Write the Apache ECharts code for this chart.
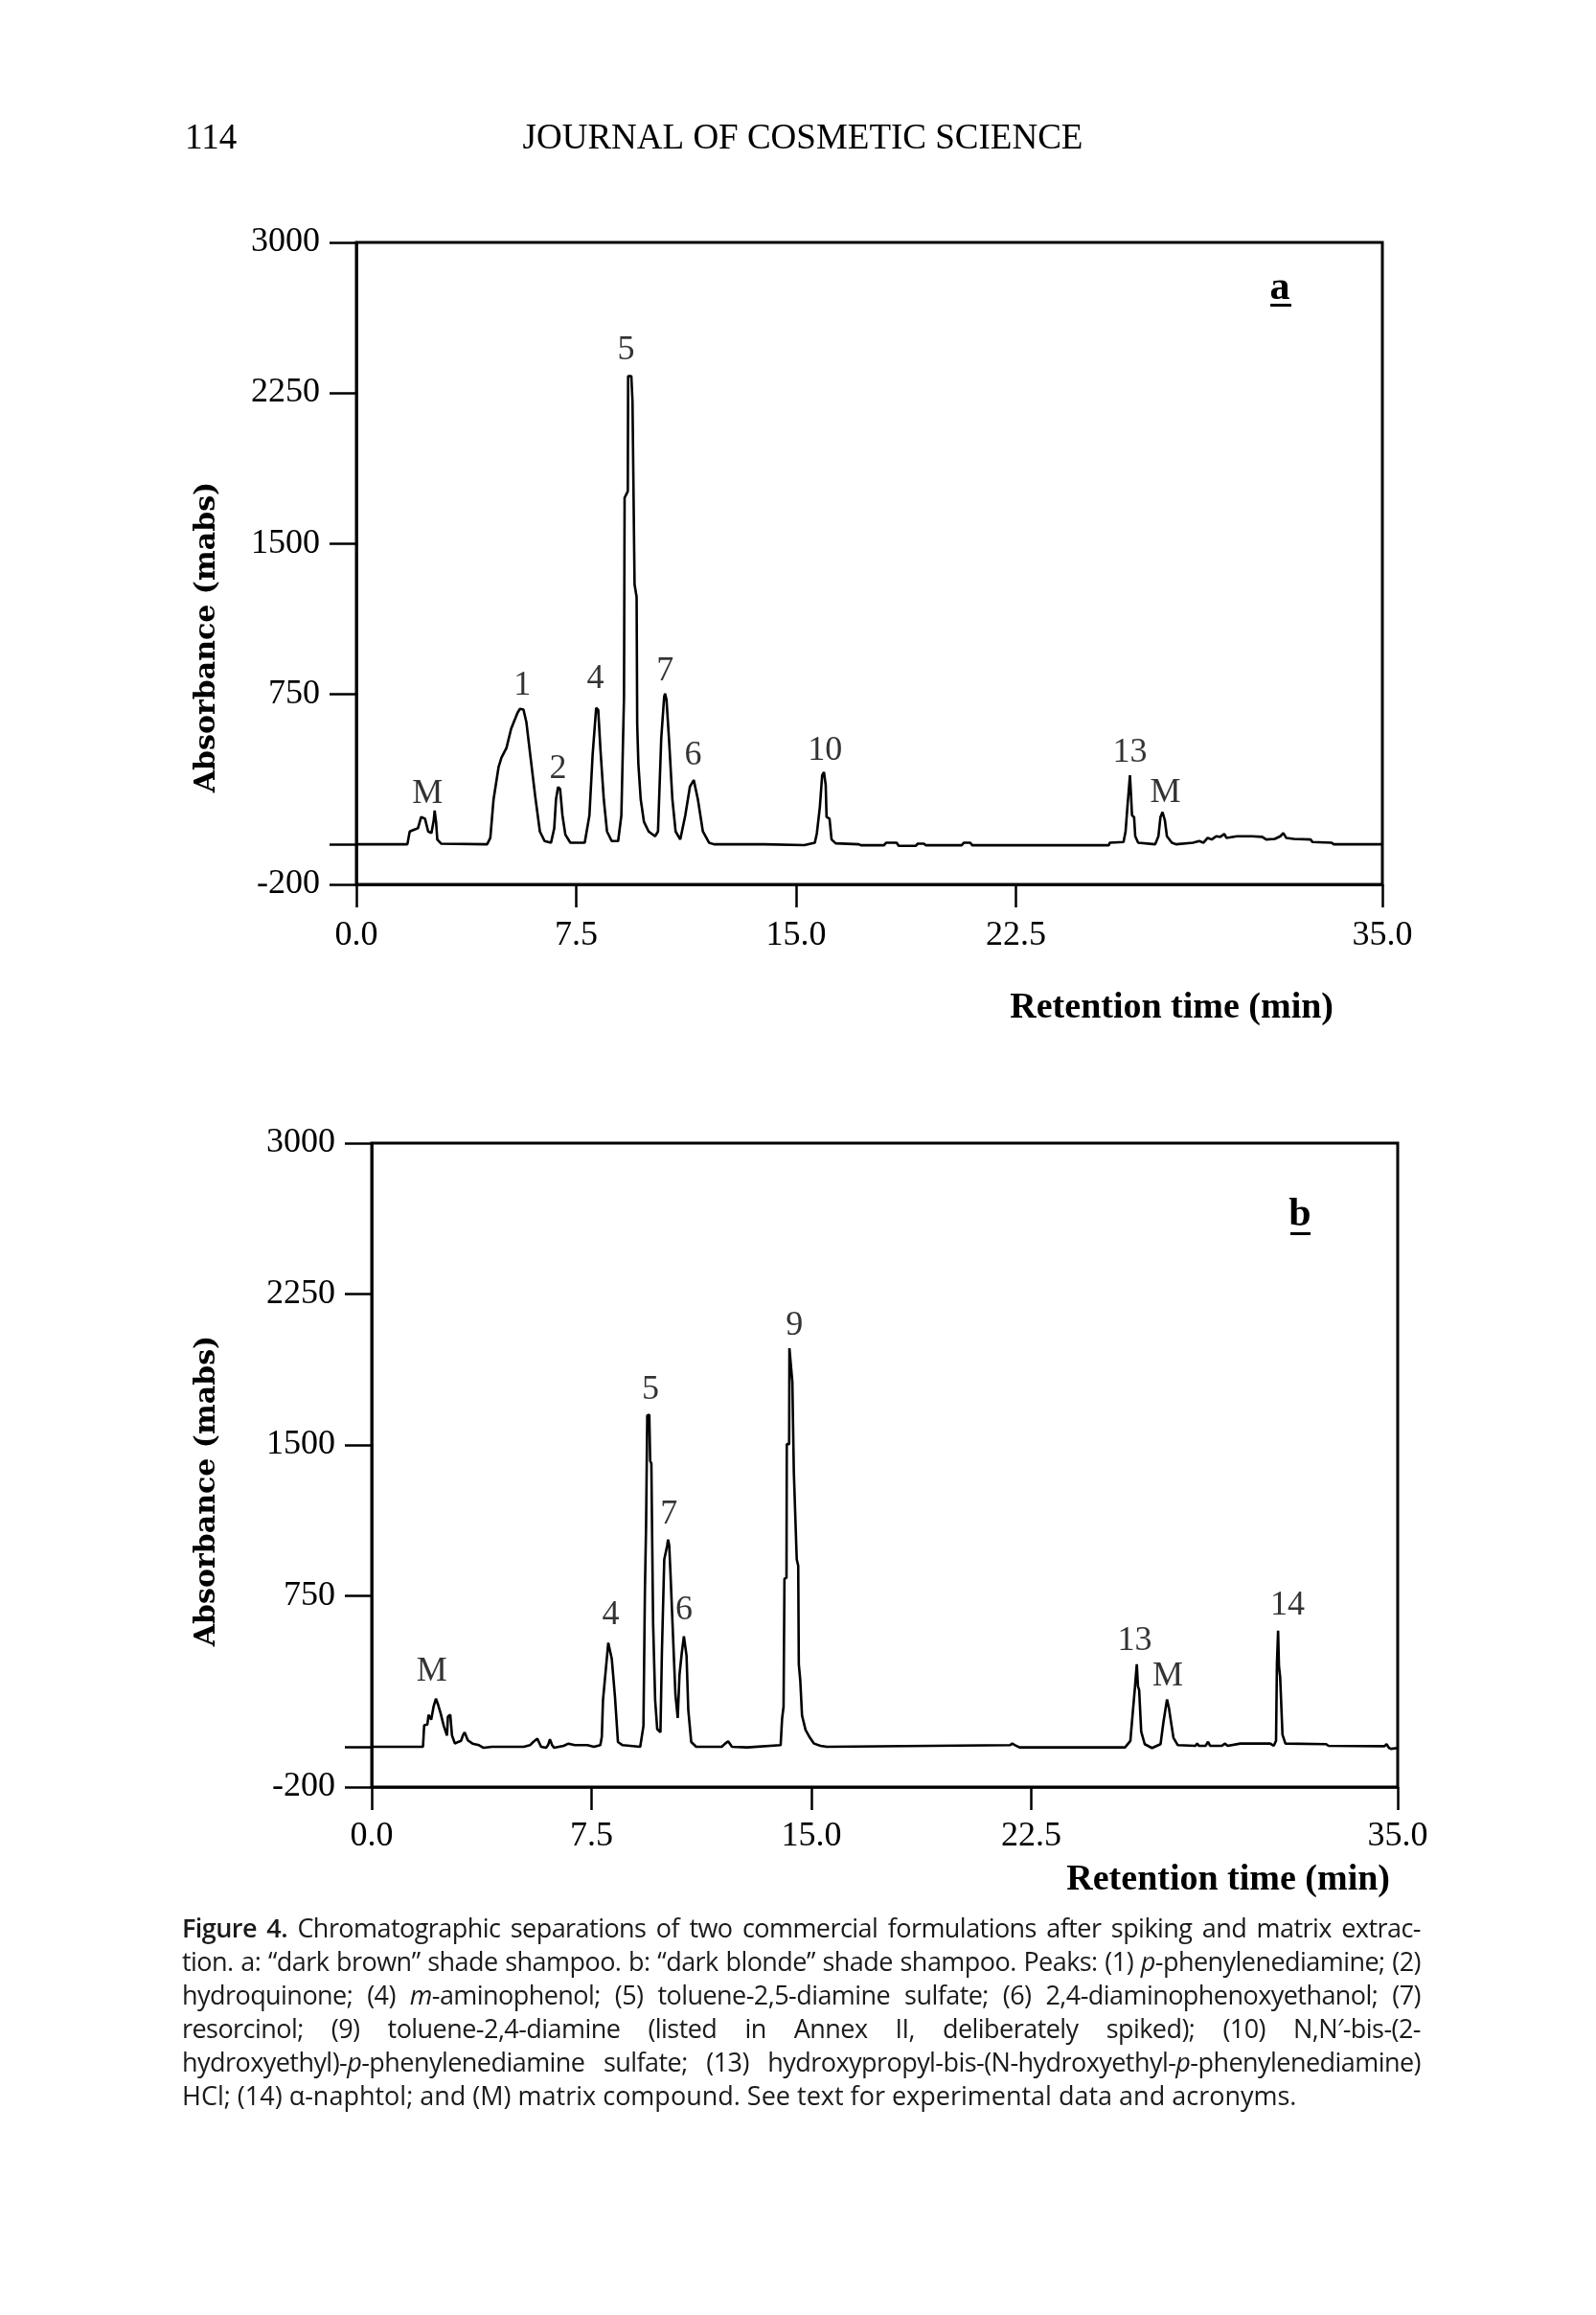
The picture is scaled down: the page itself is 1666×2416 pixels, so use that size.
<!DOCTYPE html>
<html>
<head>
<meta charset="utf-8">
<script src="https://cdn.jsdelivr.net/npm/echarts@6/dist/echarts.min.js"></script>
<style>
html,body{margin:0;padding:0;background:#fff;}
#chart{position:absolute;left:0;top:0;width:1666px;height:2416px;}
#caption{position:absolute;left:190px;top:1994px;width:1293px;font-family:"Open Sans","Noto Sans",sans-serif;font-size:27px;line-height:35px;color:#1a1a1a;}
#caption div{text-align:justify;text-align-last:justify;letter-spacing:-0.55px;}
#caption div.last{text-align:left;text-align-last:left;letter-spacing:0;}
#caption b{font-weight:600;}
</style>
</head>
<body>
<div id="chart"></div>
<div id="caption">
<div><b>Figure 4.</b> Chromatographic separations of two commercial formulations after spiking and matrix extrac-</div>
<div>tion. a: “dark brown” shade shampoo. b: “dark blonde” shade shampoo. Peaks: (1) <i>p</i>-phenylenediamine; (2)</div>
<div>hydroquinone; (4) <i>m</i>-aminophenol; (5) toluene-2,5-diamine sulfate; (6) 2,4-diaminophenoxyethanol; (7)</div>
<div>resorcinol; (9) toluene-2,4-diamine (listed in Annex II, deliberately spiked); (10) N,N′-bis-(2-</div>
<div>hydroxyethyl)-<i>p</i>-phenylenediamine sulfate; (13) hydroxypropyl-bis-(N-hydroxyethyl-<i>p</i>-phenylenediamine)</div>
<div class="last">HCl; (14) α-naphtol; and (M) matrix compound. See text for experimental data and acronyms.</div>
</div>
<script>
// ---------- Data: chromatogram a ("dark brown" shampoo) ----------
const timeA = [0,1.74,1.82,1.96,2.10,2.21,2.34,2.45,2.56,2.64,2.67,2.72,2.76,2.89,4.46,4.57,4.68,4.85,4.95,5.12,5.28,5.50,5.58,5.70,5.80,5.93,6.10,6.26,6.42,6.64,6.75,6.81,6.88,6.95,7.03,7.13,7.30,7.79,7.95,8.06,8.18,8.25,8.33,8.44,8.55,8.71,8.93,9.04,9.13,9.15,9.26,9.27,9.38,9.42,9.48,9.49,9.56,9.58,9.62,9.70,9.81,9.97,10.19,10.29,10.40,10.50,10.53,10.58,10.67,10.78,10.89,11.05,11.22,11.38,11.51,11.65,11.82,12.03,12.20,13.90,13.95,15.28,15.64,15.71,15.81,15.89,15.95,16.01,16.04,16.14,16.21,16.35,17.14,17.21,18.00,18.07,18.43,18.50,19.08,19.15,19.36,19.43,20.65,20.72,20.94,21.01,25.67,25.70,26.17,26.24,26.31,26.39,26.43,26.46,26.53,26.57,26.67,27.25,27.36,27.43,27.50,27.58,27.65,27.82,27.96,28.54,28.75,28.90,29.04,29.18,29.33,29.47,29.61,29.68,30.04,30.54,30.90,31.04,31.33,31.52,31.62,31.72,31.98,32.55,32.62,33.27,33.34,35.00];
const absA  = [0,0,64,72,80,136,128,64,56,120,168,110,24,3,0,32,224,384,432,480,576,656,675,672,608,448,240,64,16,8,80,224,285,275,144,48,8,8,144,448,680,670,464,224,64,16,16,144,736,1727,1760,2334,2334,2206,2206,1295,1233,600,400,224,112,64,40,64,528,736,751,720,512,224,64,24,144,288,320,224,64,8,0,0,-4,-4,8,56,184,344,360,296,136,128,24,5,0,-5,-5,8,8,-8,-8,3,3,-5,-5,8,8,-5,-5,8,11,64,200,344,232,144,136,40,8,0,40,136,160,120,40,8,0,8,16,8,32,24,40,37,51,32,40,40,37,24,27,40,56,32,27,24,11,8,0,0];

// ---------- Data: chromatogram b ("dark blonde" shampoo) ----------
const timeB = [0,1.75,1.79,1.90,1.94,2.03,2.11,2.19,2.27,2.35,2.46,2.57,2.60,2.68,2.74,2.84,2.95,3.05,3.11,3.17,3.28,3.44,3.66,3.82,4.10,5.19,5.40,5.51,5.65,5.78,5.95,6.02,6.08,6.15,6.22,6.55,6.71,6.93,7.36,7.58,7.80,7.85,7.89,8.02,8.07,8.13,8.19,8.30,8.40,8.56,9.16,9.27,9.32,9.36,9.40,9.47,9.50,9.54,9.60,9.67,9.74,9.85,9.90,9.98,10.08,10.11,10.15,10.20,10.28,10.36,10.44,10.50,10.58,10.65,10.70,10.74,10.80,10.90,11.07,11.94,12.05,12.16,12.29,12.81,13.95,14.00,14.05,14.08,14.15,14.16,14.24,14.25,14.31,14.35,14.40,14.44,14.50,14.55,14.57,14.62,14.68,14.80,14.95,15.09,15.31,15.53,21.78,21.85,21.95,22.10,25.70,25.88,25.98,26.03,26.07,26.10,26.14,26.18,26.25,26.37,26.62,26.91,27.01,27.13,27.20,27.25,27.35,27.50,28.10,28.16,28.22,28.45,28.53,28.60,29.00,29.11,29.20,29.63,30.65,30.77,30.85,30.88,30.92,30.95,30.99,31.07,31.17,32.56,32.64,34.55,34.62,34.70,34.77,35.00];
const absB  = [0,0,107,111,159,135,199,239,207,167,103,56,150,159,56,16,24,30,56,72,32,16,8,-5,0,0,8,24,40,0,-5,10,37,10,-5,5,16,8,8,0,8,50,231,437,517,517,437,247,24,8,0,103,772,1100,1647,1650,1420,1408,613,231,88,72,469,931,1000,1030,1000,835,549,263,143,358,469,549,540,453,183,24,0,0,15,27,0,-3,8,140,200,835,840,1504,1504,1981,1990,1814,1368,1368,931,900,410,330,156,84,45,16,5,0,8,16,8,-3,-3,29,200,283,283,410,300,283,76,13,-6,13,124,235,190,140,45,8,5,16,5,5,25,5,5,16,5,16,16,5,30,410,577,400,347,60,16,13,5,3,13,-5,-10,-6];

// ---------- Peak labels ----------
const peakTimeA = [2.43,5.66,6.88,8.15,9.20,10.53,11.49,15.99,26.39,27.60];
const peakPosA  = [249,791,376,825,2463,863,441,464,456,256];
const peakTextA = ['M','1','2','4','5','7','6','10','13','M'];
const peakTimeB = [2.05,8.15,9.51,10.14,10.65,14.42,26.03,27.16,31.24];
const peakPosB  = [374,653,1774,1154,676,2095,525,350,700];
const peakTextB = ['M','4','5','7','6','9','13','M','14'];

// ---------- Axis ticks ----------
const xTicks  = [0, 7.5, 15, 22.5, 35];
const yTicks  = [-200, 0, 750, 1500, 2250, 3000];
const yLabels = [-200, 750, 1500, 2250, 3000];

const pairs = (t, v) => t.map((x, i) => [x, v[i]]);
const peakData = (t, v, s) => t.map((x, i) => ({ value: [x, v[i]], name: s[i] }));

const serif = '"Liberation Serif","Times New Roman",serif';

function xAxisCfg(g, margin) {
  return {
    type: 'value', gridIndex: g, min: 0, max: 35,
    axisLine: { show: true, onZero: false, lineStyle: { color: '#000', width: 2.5 } },
    axisTick: { show: true, customValues: xTicks, length: 24, inside: false, lineStyle: { color: '#000', width: 2.5 } },
    axisLabel: { show: true, customValues: xTicks, margin: margin, color: '#000', fontFamily: serif, fontSize: 36,
                 formatter: v => Number(v).toFixed(1) },
    splitLine: { show: false }
  };
}
function yAxisCfg(g) {
  return {
    type: 'value', gridIndex: g, min: -200, max: 3000,
    axisLine: { show: true, onZero: false, lineStyle: { color: '#000', width: 2.5 } },
    axisTick: { show: true, customValues: yTicks, length: 28, inside: false, lineStyle: { color: '#000', width: 2.5 } },
    axisLabel: { show: true, customValues: yLabels, margin: 38, color: '#000', fontFamily: serif, fontSize: 36,
                 formatter: v => String(v) },
    splitLine: { show: false }
  };
}
function traceSeries(g, data) {
  return {
    type: 'line', xAxisIndex: g, yAxisIndex: g, data: data, showSymbol: false, symbol: 'none',
    lineStyle: { color: '#000', width: 2.6 }, smooth: false, animation: false, silent: true, clip: true
  };
}
function labelSeries(g, data) {
  return {
    type: 'scatter', xAxisIndex: g, yAxisIndex: g, data: data, symbolSize: 1,
    itemStyle: { color: 'rgba(0,0,0,0)' }, silent: true, animation: false, clip: false,
    label: { show: true, position: 'inside', formatter: p => p.name, color: '#000', fontFamily: serif, fontSize: 36 }
  };
}

function textEl(x, y, text, font, align, rot) {
  return { type: 'text', x: x, y: y, rotation: rot || 0, silent: true,
    style: { text: text, font: font, fill: '#000', textAlign: align, textVerticalAlign: 'middle', align: align, verticalAlign: 'middle' } };
}

const chart = echarts.init(document.getElementById('chart'), null, { renderer: 'canvas' });
chart.setOption({
  backgroundColor: '#fff',
  animation: false,
  grid: [
    { left: 372, top: 253, width: 1071, height: 670, show: true, borderColor: '#000', borderWidth: 3, backgroundColor: 'rgba(0,0,0,0)' },
    { left: 388, top: 1193, width: 1071, height: 672, show: true, borderColor: '#000', borderWidth: 3, backgroundColor: 'rgba(0,0,0,0)' }
  ],
  xAxis: [ xAxisCfg(0, 36), xAxisCfg(1, 34) ],
  yAxis: [ yAxisCfg(0), yAxisCfg(1) ],
  series: [
    traceSeries(0, pairs(timeA, absA)),
    traceSeries(1, pairs(timeB, absB)),
    labelSeries(0, peakData(peakTimeA, peakPosA, peakTextA)),
    labelSeries(1, peakData(peakTimeB, peakPosB, peakTextB))
  ],
  graphic: [
    textEl(193, 145, '114', '37px ' + serif, 'left'),
    textEl(838, 145, 'JOURNAL OF COSMETIC SCIENCE', '37px ' + serif, 'center'),
    textEl(216, 665, 'Absorbance (mabs)', 'bold 30px "DejaVu Serif",serif', 'center', Math.PI / 2),
    textEl(216, 1556, 'Absorbance (mabs)', 'bold 30px "DejaVu Serif",serif', 'center', Math.PI / 2),
    textEl(1392, 1052, 'Retention time (min)', 'bold 38px ' + serif, 'right'),
    textEl(1451, 1962, 'Retention time (min)', 'bold 38px ' + serif, 'right'),
    textEl(1336, 301, 'a', 'bold 42px ' + serif, 'center'),
    { type: 'rect', silent: true, shape: { x: 1326, y: 317, width: 22, height: 3 }, style: { fill: '#000' } },
    textEl(1357, 1268, 'b', 'bold 42px ' + serif, 'center'),
    { type: 'rect', silent: true, shape: { x: 1347, y: 1286, width: 21, height: 3 }, style: { fill: '#000' } }
  ]
});
</script>
</body>
</html>
